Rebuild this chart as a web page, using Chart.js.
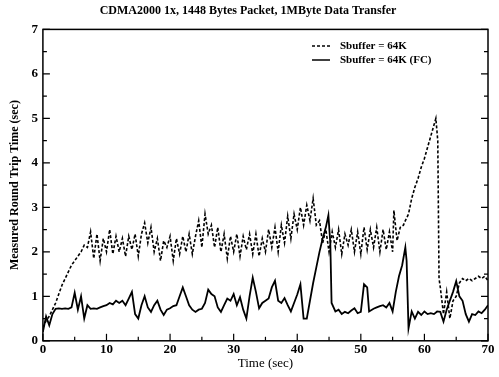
<!DOCTYPE html>
<html>
<head>
<meta charset="utf-8">
<script src="https://cdn.jsdelivr.net/npm/chart.js@4.4.0/dist/chart.umd.min.js"></script>
<style>
  html, body { margin: 0; padding: 0; background: #fff; }
  #wrap { width: 499px; height: 377px; }
</style>
</head>
<body>
<div id="wrap"><canvas id="rttChart" width="499" height="377"></canvas></div>
<script>
// time axis (sec) and measured RTT (sec)
const timesA = [0,0.5,1,1.5,2,2.5,3,3.5,4,4.5,5,5.5,6,6.5,7,7.5,8,8.5,9,9.5,10,10.5,11,11.5,12,12.5,13,13.5,14,14.5,15,15.5,16,16.5,17,17.5,18,18.5,19,19.5,20,20.5,21,21.5,22,22.5,23,23.5,24,24.5,25,25.5,26,26.5,27,27.5,28,28.5,29,29.5,30,30.5,31,31.5,32,32.5,33,33.5,34,34.5,35,35.5,36,36.5,37,37.5,38,38.5,39,39.5,40,40.5,41,41.5,42,42.5,43,43.5,44,44.5,45,45.5,46,46.5,47,47.5,48,48.5,49,49.5,50,50.5,51,51.5,52,52.5,53,53.5,54,54.5,55,55.2,55.7,56.2,56.7,57,57.5,58,58.5,59,59.5,60,60.5,61,61.5,61.8,62.1,62.3,62.5,63,63.5,64,64.5,65,65.5,66,66.5,67,67.5,68,68.5,69,69.5,70];
const rttA = [0.3,0.45,0.55,0.7,0.85,1.05,1.25,1.4,1.55,1.7,1.8,1.9,2.0,2.15,2.1,2.45,1.85,2.4,1.8,2.3,2.0,2.5,1.95,2.35,2.0,2.3,1.9,2.35,2.05,2.4,1.9,2.4,2.65,2.2,2.55,2.0,2.3,1.8,2.25,2.1,2.35,1.8,2.3,1.95,2.35,2.0,2.4,1.95,2.35,2.7,2.1,2.85,2.4,2.6,2.1,2.55,2.0,2.4,1.85,2.35,2.0,2.4,1.9,2.35,2.05,2.4,1.95,2.4,1.9,2.3,2.0,2.5,2.1,2.55,2.0,2.6,2.2,2.8,2.3,2.85,2.5,3.0,2.6,3.05,2.7,3.2,2.6,2.7,2.2,2.5,2.0,2.45,2.1,2.5,1.95,2.4,2.15,2.5,2.0,2.45,1.95,2.55,2.05,2.5,2.1,2.55,2.0,2.5,2.05,2.45,2.0,2.93,2.25,2.55,2.6,2.7,2.85,3.2,3.45,3.65,3.9,4.1,4.35,4.6,4.85,5.0,4.5,1.4,1.2,0.6,1.1,0.5,0.9,1.0,1.3,1.4,1.35,1.4,1.35,1.4,1.45,1.4,1.45,1.35];

const timesB = [0,0.5,1,1.5,2,2.5,3,3.5,4,4.5,5,5.5,6,6.5,7,7.5,8,8.5,9,9.5,10,10.5,11,11.5,12,12.5,13,13.5,14,14.5,15,15.5,16,16.5,17,17.5,18,18.5,19,19.5,20,20.5,21,21.5,22,22.5,23,23.5,24,24.5,25,25.5,26,26.5,27,27.5,28,28.5,29,29.5,30,30.5,31,31.5,32,32.5,33,33.5,34,34.5,35,35.5,36,36.5,37,37.5,38,38.5,39,39.5,40,40.5,41,41.5,42,42.5,43,43.5,44,44.5,44.9,45.2,45.4,46,46.5,47,47.5,48,48.5,49,49.5,50,50.5,51,51.3,52,52.5,53,53.5,54,54.5,55,55.5,56,56.5,57,57.2,57.5,58,58.5,59,59.5,60,60.5,61,61.5,62,62.5,63,63.5,64,64.5,65,65.5,66,66.5,67,67.5,68,68.5,69,69.5,70];
const rttB = [0.2,0.55,0.35,0.6,0.72,0.73,0.72,0.73,0.72,0.75,1.08,0.7,1.0,0.5,0.8,0.72,0.73,0.72,0.75,0.78,0.8,0.85,0.82,0.9,0.85,0.9,0.8,0.95,1.1,0.6,0.5,0.8,1.0,0.75,0.65,0.8,0.9,0.7,0.58,0.7,0.73,0.78,0.8,1.0,1.2,1.0,0.8,0.7,0.65,0.7,0.72,0.85,1.15,1.05,1.0,0.75,0.65,0.8,0.95,0.9,1.05,0.8,0.98,0.7,0.5,1.0,1.42,1.1,0.73,0.85,0.9,0.95,1.2,1.35,0.9,0.85,0.96,0.8,0.66,0.85,1.04,1.27,0.5,0.5,0.9,1.3,1.65,2.0,2.3,2.55,2.82,2.2,0.85,0.66,0.7,0.6,0.65,0.62,0.68,0.73,0.62,0.65,1.27,1.2,0.66,0.72,0.75,0.78,0.8,0.75,0.85,0.66,1.1,1.45,1.7,2.1,1.8,0.28,0.66,0.5,0.65,0.58,0.66,0.6,0.62,0.6,0.66,0.65,0.43,0.7,0.9,1.1,1.34,1.0,0.9,0.6,0.43,0.6,0.58,0.66,0.62,0.7,0.8];

const seriesNames = ['Sbuffer = 64K', 'Sbuffer = 64K (FC)'];

const toPoints = (xs, ys) => xs.map((x, i) => ({ x: x, y: ys[i] }));

const serif = '"Liberation Serif", "DejaVu Serif", serif';

// box round the plot, inward tick marks and the legend inside the plot
const framePlugin = {
  id: 'frame',
  afterDatasetsDraw(chart) {
    const { ctx, chartArea: a, scales } = chart;
    ctx.save();
    ctx.strokeStyle = '#000';
    ctx.lineWidth = 1.5;
    ctx.strokeRect(a.left, a.top, a.right - a.left, a.bottom - a.top);

    ctx.lineWidth = 1.2;
    for (let v = 0; v <= 7; v += 0.5) {
      const y = scales.y.getPixelForValue(v);
      const len = Number.isInteger(v) ? 7 : 4;
      ctx.beginPath();
      ctx.moveTo(a.left, y); ctx.lineTo(a.left + len, y);
      ctx.moveTo(a.right, y); ctx.lineTo(a.right - len, y);
      ctx.stroke();
    }
    for (let t = 0; t <= 70; t += 5) {
      const x = scales.x.getPixelForValue(t);
      const len = t % 10 === 0 ? 7 : 4;
      ctx.beginPath();
      ctx.moveTo(x, a.bottom); ctx.lineTo(x, a.bottom - len);
      ctx.stroke();
    }

    // legend
    const lx = 312, ly = 46;
    ctx.font = 'bold 11px ' + serif;
    ctx.fillStyle = '#000';
    ctx.textBaseline = 'middle';
    chart.data.datasets.forEach((ds, i) => {
      const y = ly + i * 14;
      ctx.beginPath();
      ctx.setLineDash(ds.borderDash || []);
      ctx.lineWidth = 1.5;
      ctx.moveTo(lx, y); ctx.lineTo(lx + 18, y);
      ctx.stroke();
      ctx.setLineDash([]);
      ctx.fillText(ds.label, lx + 28, y);
    });
    ctx.restore();
  }
};

new Chart(document.getElementById('rttChart'), {
  type: 'line',
  data: {
    datasets: [
      {
        label: seriesNames[0],
        data: toPoints(timesA, rttA),
        borderColor: '#000',
        borderWidth: 1.6,
        borderDash: [3, 2],
        pointRadius: 0,
        tension: 0
      },
      {
        label: seriesNames[1],
        data: toPoints(timesB, rttB),
        borderColor: '#000',
        borderWidth: 1.8,
        pointRadius: 0,
        tension: 0
      }
    ]
  },
  options: {
    responsive: false,
    animation: false,
    layout: { padding: { left: 8, right: 11, top: 0, bottom: 6 } },
    plugins: {
      legend: { display: false },
      tooltip: { enabled: false },
      title: {
        display: true,
        text: 'CDMA2000 1x, 1448 Bytes Packet, 1MByte Data Transfer',
        color: '#000',
        font: { family: serif, size: 12, weight: 'bold' },
        padding: { top: 4, bottom: 11 }
      }
    },
    scales: {
      x: {
        type: 'linear',
        min: 0,
        max: 70,
        grid: { display: false, drawTicks: false },
        border: { display: false },
        ticks: { stepSize: 10, color: '#000', padding: 1, font: { family: serif, size: 13, weight: 'bold' } },
        title: {
          display: true,
          text: 'Time (sec)',
          color: '#000',
          font: { family: serif, size: 13 },
          padding: { top: -3, bottom: 0 }
        }
      },
      y: {
        min: 0,
        max: 7,
        grid: { display: false, drawTicks: false },
        border: { display: false },
        ticks: { stepSize: 1, color: '#000', padding: 5, font: { family: serif, size: 13, weight: 'bold' } },
        title: {
          display: true,
          text: 'Measured Round Trip Time (sec)',
          color: '#000',
          font: { family: serif, size: 12, weight: 'bold' },
          padding: { top: 0, bottom: 4 }
        }
      }
    }
  },
  plugins: [framePlugin]
});
</script>
</body>
</html>
